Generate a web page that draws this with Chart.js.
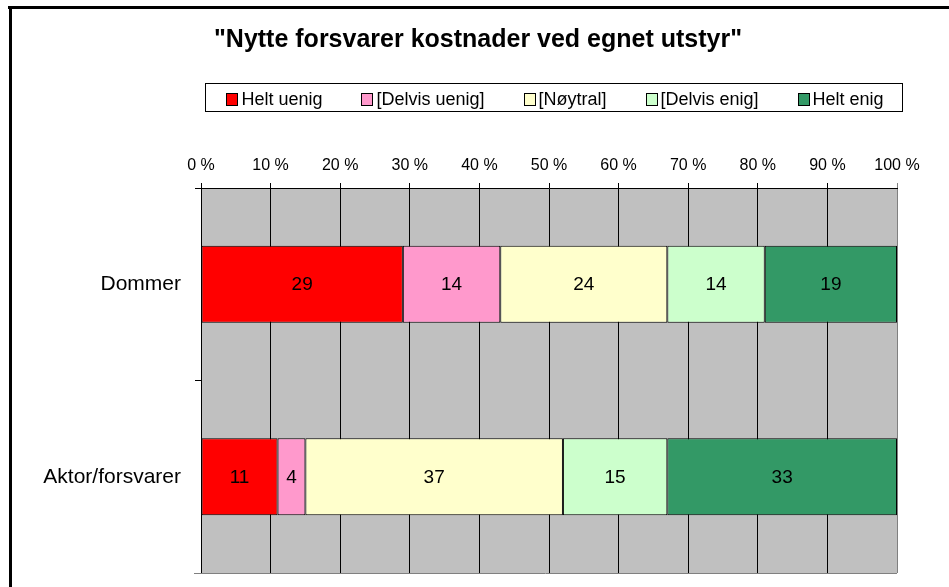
<!DOCTYPE html>
<html>
<head>
<meta charset="utf-8">
<title>Nytte forsvarer kostnader ved egnet utstyr</title>
<script src="https://cdn.jsdelivr.net/npm/chart.js@4.4.1/dist/chart.umd.min.js"></script>
<style>
  html, body { margin: 0; padding: 0; background: #fff; }
  #wrap { position: absolute; left: 0; top: 0; width: 949px; height: 587px; }
</style>
</head>
<body>
<div id="wrap"><canvas id="myChart" width="949" height="587"></canvas></div>
<script>
// data (percent)
var categories = ['Dommer', 'Aktor/forsvarer'];
var seriesNames = ['Helt uenig', '[Delvis uenig]', '[Nøytral]', '[Delvis enig]', 'Helt enig'];
var heltUenig = [29, 11];
var delvisUenig = [14, 4];
var noytral = [24, 37];
var delvisEnig = [14, 15];
var heltEnig = [19, 33];
var seriesColors = ['#ff0000', '#ff99cc', '#ffffcc', '#ccffcc', '#339966'];
var chartTitle = '"Nytte forsvarer kostnader ved egnet utstyr"';

var seriesValues = [heltUenig, delvisUenig, noytral, delvisEnig, heltEnig];

var data = {
  labels: categories,
  datasets: seriesNames.map(function (name, i) {
    return {
      label: name,
      data: seriesValues[i],
      backgroundColor: seriesColors[i],
      borderColor: '#000000',
      borderWidth: 1,
      borderSkipped: false,
      barPercentage: 0.4,
      categoryPercentage: 1
    };
  })
};

// grey plot area, frame lines, title, legend and the value labels
var decor = {
  id: 'decor',
  beforeDraw: function (chart) {
    var ctx = chart.ctx, a = chart.chartArea;
    ctx.save();
    ctx.fillStyle = '#c0c0c0';
    ctx.fillRect(a.left, a.top, a.right - a.left, a.bottom - a.top);
    ctx.restore();
  },
  afterDatasetsDraw: function (chart) {
    var ctx = chart.ctx;
    ctx.save();
    ctx.font = '19px Arial, "Liberation Sans", sans-serif';
    ctx.fillStyle = '#000';
    ctx.textAlign = 'center';
    ctx.textBaseline = 'middle';
    chart.data.datasets.forEach(function (ds, i) {
      chart.getDatasetMeta(i).data.forEach(function (bar, j) {
        ctx.fillText(String(ds.data[j]), (bar.x + bar.base) / 2, bar.y + 1);
      });
    });
    ctx.restore();
  },
  afterDraw: function (chart) {
    var ctx = chart.ctx, a = chart.chartArea;
    ctx.save();
    // bottom edge of plot in grey
    ctx.strokeStyle = '#808080';
    ctx.lineWidth = 1;
    ctx.beginPath();
    ctx.moveTo(a.left - 7, Math.round(a.bottom) + 0.5);
    ctx.lineTo(a.right, Math.round(a.bottom) + 0.5);
    ctx.stroke();

    // outer frame (only top and left are visible)
    ctx.fillStyle = '#000';
    ctx.fillRect(8, 6, 941, 3);
    ctx.fillRect(9, 6, 3, 581);

    // title
    ctx.font = 'bold 25px Arial, "Liberation Sans", sans-serif';
    ctx.textAlign = 'center';
    ctx.textBaseline = 'middle';
    ctx.fillText(chartTitle, 478, 40);

    // legend
    ctx.font = '18px Arial, "Liberation Sans", sans-serif';
    ctx.textAlign = 'left';
    var box = 12, gap = 3, spacing = 39;
    var widths = chart.data.datasets.map(function (ds) {
      return box + gap + ctx.measureText(ds.label).width;
    });
    var total = widths.reduce(function (s, w) { return s + w; }, 0) + spacing * (widths.length - 1);
    var x = (a.left + a.right) / 2 + 6 - total / 2;
    var cy = 99;
    ctx.strokeStyle = '#000';
    ctx.lineWidth = 1;
    ctx.strokeRect(Math.round(x - 21) + 0.5, 83.5, Math.round(total + 40), 28);
    chart.data.datasets.forEach(function (ds, i) {
      ctx.fillStyle = ds.backgroundColor;
      ctx.fillRect(Math.round(x), cy - 6, box, 13);
      ctx.strokeStyle = '#000';
      ctx.strokeRect(Math.round(x) + 0.5, cy - 6 + 0.5, box - 1, 12);
      ctx.fillStyle = '#000';
      ctx.textBaseline = 'middle';
      ctx.fillText(ds.label, x + box + gap, cy + 1);
      x += widths[i] + spacing;
    });
    ctx.restore();
  }
};

var ctx = document.getElementById('myChart').getContext('2d');

var myChart = new Chart(ctx, {
  type: 'bar',
  data: data,
  plugins: [decor],
  options: {
    indexAxis: 'y',
    responsive: false,
    animation: false,
    devicePixelRatio: 1,
    layout: { padding: { left: 20, right: 52, top: 158, bottom: 14 } },
    plugins: {
      legend: { display: false },
      title: { display: false },
      tooltip: { enabled: false }
    },
    scales: {
      x: {
        position: 'top',
        stacked: true,
        min: 0,
        max: 100,
        afterFit: function (scale) { scale.height = 30; },
        ticks: {
          stepSize: 10,
          padding: 8,
          color: '#000',
          font: { family: 'Arial, "Liberation Sans", sans-serif', size: 16 },
          callback: function (v) { return v + ' %'; }
        },
        grid: {
          color: function (c) { return c.index === 10 ? '#808080' : '#000000'; },
          lineWidth: 1,
          tickLength: 5,
          drawTicks: true
        },
        border: { display: true, color: '#000000', width: 1 }
      },
      y: {
        stacked: true,
        afterFit: function (scale) {
          scale.width = 181;
          scale.paddingTop = 0;
          scale.paddingBottom = 0;
        },
        ticks: {
          padding: 14,
          color: '#000',
          font: { family: 'Arial, "Liberation Sans", sans-serif', size: 21 }
        },
        grid: {
          offset: true,
          drawOnChartArea: false,
          drawTicks: true,
          tickLength: 6,
          color: '#000000'
        },
        border: { display: true, color: '#000000', width: 1 }
      }
    }
  }
});
</script>
</body>
</html>
